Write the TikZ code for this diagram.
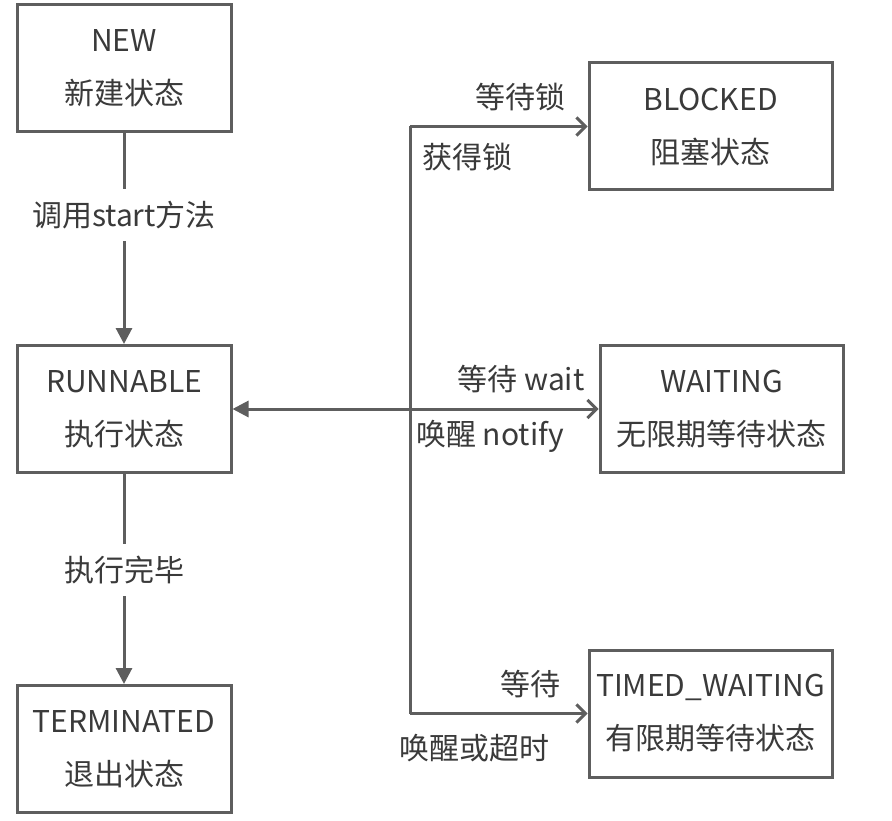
\documentclass[tikz,border=0pt]{standalone}
\usepackage{fontspec}
\setmainfont{Noto Sans CJK SC}
\usepackage{tikz}
\usetikzlibrary{arrows.meta}
\usetikzlibrary{positioning}
\definecolor{linegray}{HTML}{5E5E5E}
\definecolor{textgray}{HTML}{3A3A3A}
\tikzset{
	every path/.style = {line width=3pt},
	state/.style = {draw=linegray, line width=3pt, minimum width=214pt, minimum height=127pt,
		align=center, text=textgray, font=\fontsize{30}{53}\selectfont},
	lbl/.style = {draw=none, fill=white, inner sep=3pt, text=textgray, font=\fontsize{30}{34}\selectfont},
	solid tip/.style = {-{Triangle[length=16pt,width=16pt]}},
	open tip/.style = {-{Straight Barb[length=9pt,width=18pt,line width=3pt]}}
}

\begin{document}
\begin{tikzpicture}[x=1pt,y=-1pt,color=linegray]
	\useasboundingbox (0,0) rectangle (892,821);
	% states
	\node[state] (new) at (124,68) {NEW\\新建状态};
	\node[state] (run) at (124,409) {RUNNABLE\\执行状态};
	\node[state] (term) at (124,749) {TERMINATED\\退出状态};
	\node[state, minimum width=243pt] (blk) at (710.5,126.5) {BLOCKED\\阻塞状态};
	\node[state, minimum width=243pt] (wait) at (721.5,409) {WAITING\\无限期等待状态};
	\node[state, minimum width=243pt] (timed) at (710.5,713.5) {TIMED\_WAITING\\有限期等待状态};
	% trunk
	\coordinate (top) at (410,126.5);
	\coordinate (bot) at (410,713.5);
	\draw (top) -- (bot);
	% transitions
	\draw[solid tip] (new) -- node[lbl, pos=0.39, inner sep=12pt] {调用start方法} (run);
	\draw[solid tip] (run) -- node[lbl, pos=0.455, inner sep=12pt] {执行完毕} (term);
	\draw[open tip] (top) -- (blk);
	\draw[{Triangle[length=16pt,width=16pt]}-{Straight Barb[length=9pt,width=18pt,line width=3pt]}] (run) -- (wait);
	\draw[open tip] (bot) -- (timed);
	% labels
	\node[lbl] (lockw) at (520,97) {等待锁};
	\node[lbl] (lockg) at (467,157) {获得锁};
	\node[lbl] (waitw) at (521,379) {等待 wait};
	\node[lbl] (waitn) at (490,436) {唤醒 notify};
	\node[lbl] (timew) at (530,684) {等待};
	\node[lbl] (timen) at (474,748) {唤醒或超时};
\end{tikzpicture}
\end{document}
